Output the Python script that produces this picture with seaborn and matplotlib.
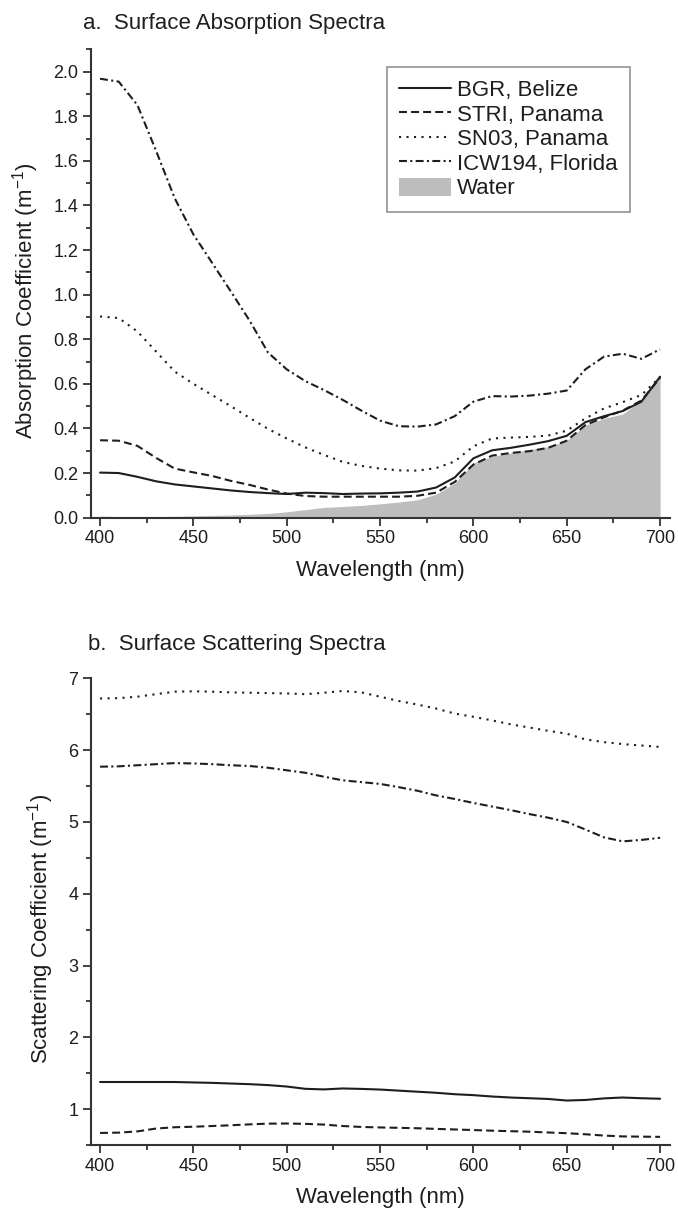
import matplotlib
matplotlib.use("Agg")
import matplotlib.pyplot as plt
import pandas as pd
import seaborn as sns
from matplotlib.ticker import FormatStrFormatter, MultipleLocator

# longitudes de onda comunes a ambos paneles (nm)
wavelength = [400, 410, 420, 430, 440, 450, 460, 470, 480, 490, 500,
              510, 520, 530, 540, 550, 560, 570, 580, 590, 600,
              610, 620, 630, 640, 650, 660, 670, 680, 690, 700]

# a. absorcion superficial (m^-1)
abs_bgr = [0.202, 0.200, 0.183, 0.163, 0.149, 0.140, 0.131, 0.122, 0.115, 0.110, 0.106,
           0.112, 0.110, 0.106, 0.108, 0.109, 0.112, 0.117, 0.135, 0.180, 0.266,
           0.302, 0.313, 0.327, 0.343, 0.367, 0.428, 0.455, 0.478, 0.520, 0.632]
abs_stri = [0.347, 0.345, 0.322, 0.268, 0.220, 0.203, 0.187, 0.165, 0.147, 0.126, 0.108,
            0.097, 0.094, 0.094, 0.094, 0.094, 0.094, 0.098, 0.112, 0.160, 0.238,
            0.278, 0.290, 0.298, 0.313, 0.345, 0.415, 0.450, 0.480, 0.525, 0.627]
abs_sn03 = [0.902, 0.895, 0.835, 0.745, 0.655, 0.600, 0.550, 0.500, 0.448, 0.398, 0.355,
            0.315, 0.281, 0.250, 0.232, 0.220, 0.212, 0.211, 0.222, 0.252, 0.320,
            0.355, 0.359, 0.362, 0.368, 0.390, 0.445, 0.490, 0.518, 0.550, 0.630]
abs_icw194 = [1.968, 1.955, 1.850, 1.645, 1.432, 1.270, 1.143, 1.015, 0.885, 0.740, 0.665,
              0.612, 0.572, 0.528, 0.480, 0.435, 0.410, 0.408, 0.418, 0.455, 0.520,
              0.545, 0.543, 0.547, 0.556, 0.570, 0.665, 0.722, 0.735, 0.712, 0.755]
abs_water = [0.007, 0.005, 0.005, 0.005, 0.006, 0.008, 0.010, 0.012, 0.015, 0.019, 0.026,
             0.036, 0.046, 0.050, 0.055, 0.062, 0.070, 0.080, 0.105, 0.155, 0.245,
             0.275, 0.290, 0.305, 0.318, 0.345, 0.415, 0.445, 0.465, 0.525, 0.632]

# b. dispersion superficial (m^-1)
sca_bgr = [1.378, 1.378, 1.378, 1.378, 1.378, 1.372, 1.366, 1.357, 1.348, 1.335, 1.315,
           1.283, 1.275, 1.288, 1.282, 1.273, 1.258, 1.243, 1.228, 1.208, 1.195,
           1.176, 1.162, 1.152, 1.142, 1.120, 1.128, 1.150, 1.162, 1.152, 1.145]
sca_stri = [0.668, 0.673, 0.690, 0.730, 0.748, 0.755, 0.765, 0.775, 0.788, 0.798, 0.800,
            0.795, 0.785, 0.765, 0.752, 0.745, 0.740, 0.734, 0.725, 0.717, 0.709,
            0.700, 0.693, 0.686, 0.675, 0.665, 0.650, 0.632, 0.620, 0.617, 0.614]
sca_sn03 = [6.720, 6.725, 6.745, 6.780, 6.815, 6.820, 6.815, 6.805, 6.800, 6.795, 6.790,
            6.780, 6.800, 6.825, 6.805, 6.745, 6.685, 6.635, 6.580, 6.510, 6.465,
            6.415, 6.360, 6.315, 6.270, 6.230, 6.150, 6.112, 6.085, 6.065, 6.045]
sca_icw194 = [5.770, 5.775, 5.790, 5.805, 5.820, 5.815, 5.805, 5.790, 5.780, 5.755, 5.720,
              5.685, 5.630, 5.580, 5.555, 5.530, 5.485, 5.435, 5.370, 5.320, 5.265,
              5.215, 5.165, 5.110, 5.060, 5.000, 4.895, 4.785, 4.730, 4.750, 4.780]

sites = ["BGR, Belize", "STRI, Panama", "SN03, Panama", "ICW194, Florida"]

INK = "#1e1e1e"
LINESTYLES = ["-", (0, (3.8, 2.0)), (0, (1.0, 2.6)), (0, (3.8, 1.6, 1.0, 1.6))]

sns.set_style("ticks")
plt.rcParams["font.family"] = ["Liberation Sans", "DejaVu Sans"]
plt.rcParams["mathtext.default"] = "regular"
plt.rcParams["text.color"] = INK
plt.rcParams["axes.labelcolor"] = INK


def style_axis(ax, ylim, ymajor, yminor, yfmt):
    ax.set_xlim(395, 705.5)
    ax.set_ylim(*ylim)
    ax.xaxis.set_major_locator(MultipleLocator(50))
    ax.xaxis.set_minor_locator(MultipleLocator(25))
    ax.yaxis.set_major_locator(MultipleLocator(ymajor))
    ax.yaxis.set_minor_locator(MultipleLocator(yminor))
    ax.yaxis.set_major_formatter(FormatStrFormatter(yfmt))
    sns.despine(ax=ax)
    for side in ("left", "bottom"):
        ax.spines[side].set_linewidth(1.5)
        ax.spines[side].set_color("#333333")
    ax.tick_params(which="major", direction="out", length=6, width=1.3,
                   color="#333333", labelsize=13, labelcolor=INK, pad=3)
    ax.tick_params(which="minor", direction="out", length=3.6, width=1.3,
                   color="#333333")
    ax.set_xlabel("Wavelength (nm)", fontsize=16, labelpad=9)


fig = plt.figure(figsize=(6.78, 12.14), dpi=100)
ax_a = fig.add_axes([0.1338, 0.5736, 0.8549, 0.3858])
ax_b = fig.add_axes([0.1338, 0.0568, 0.8549, 0.3844])

# panel a
df_a = pd.DataFrame({"wavelength": wavelength, "water": abs_water})
water_fill = ax_a.fill_between(df_a["wavelength"], 0, df_a["water"], color="#bdbdbd",
                               lw=0, label="Water", zorder=1)
for site, vals, ls in zip(sites, [abs_bgr, abs_stri, abs_sn03, abs_icw194], LINESTYLES):
    sns.lineplot(x=wavelength, y=vals, ax=ax_a, color=INK, lw=1.5, linestyle=ls,
                 label=site, legend=False, zorder=3)
style_axis(ax_a, (0, 2.1), 0.2, 0.1, "%.1f")
ax_a.set_ylabel(r"Absorption Coefficient (m$^{-1}$)", fontsize=16, labelpad=9)
ax_a.yaxis.label.set_y(0.463)

# leyenda: primero las cuatro curvas, al final el agua
handles = list(ax_a.get_lines()) + [water_fill]
labels = sites + ["Water"]
leg = ax_a.legend(handles, labels, loc="upper right", bbox_to_anchor=(0.9305, 0.962),
                  borderaxespad=0, fontsize=16, frameon=True, fancybox=False,
                  handlelength=2.3, handleheight=0.9, handletextpad=0.3,
                  labelspacing=0.12, borderpad=0.55)
leg.get_frame().set_edgecolor("#777777")
leg.get_frame().set_linewidth(1.2)

# panel b
for site, vals, ls in zip(sites, [sca_bgr, sca_stri, sca_sn03, sca_icw194], LINESTYLES):
    sns.lineplot(x=wavelength, y=vals, ax=ax_b, color=INK, lw=1.5, linestyle=ls,
                 label=site, legend=False)
style_axis(ax_b, (0.5, 7), 1, 0.5, "%d")
ax_b.set_ylabel(r"Scattering Coefficient (m$^{-1}$)", fontsize=16, labelpad=9)
ax_b.yaxis.label.set_y(0.463)

fig.text(0.1224, 0.981, "a.  Surface Absorption Spectra", fontsize=16, ha="left", va="center")
fig.text(0.1302, 0.4687, "b.  Surface Scattering Spectra", fontsize=16, ha="left", va="center")

fig.savefig("out.png", dpi=100)
plt.close(fig)
